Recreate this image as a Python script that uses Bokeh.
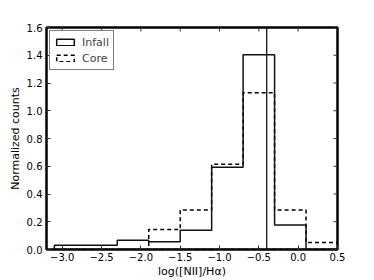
import math
from bokeh.plotting import figure
from bokeh.models import (Range1d, FixedTicker, CustomJSTickFormatter,
                          Span, Legend, LegendItem)
from bokeh.embed import file_html
from bokeh.resources import INLINE

# Data
bin_edges = [-3.1, -2.7, -2.3, -1.9, -1.5, -1.1, -0.7, -0.3, 0.1, 0.5]
infall = [0.031, 0.031, 0.066, 0.055, 0.138, 0.593, 1.404, 0.176, 0.0]
core = [0.0, 0.0, 0.0, 0.145, 0.285, 0.614, 1.129, 0.285, 0.05]
vline_x = -0.4
x_ticks = [-3.0, -2.5, -2.0, -1.5, -1.0, -0.5, 0.0, 0.5]
y_ticks = [0.0, 0.2, 0.4, 0.6, 0.8, 1.0, 1.2, 1.4, 1.6]
x_lim = (-3.2, 0.5)
y_lim = (0.0, 1.6)

FONT = "DejaVu Sans"


def step_xy(edges, vals):
    xs, ys = [edges[0]], [0.0]
    for i, v in enumerate(vals):
        xs += [edges[i], edges[i + 1]]
        ys += [v, v]
    xs.append(edges[-1])
    ys.append(0.0)
    return xs, ys


p = figure(width=374, height=280, output_backend="svg", toolbar_location=None,
           x_range=Range1d(*x_lim), y_range=Range1d(*y_lim),
           min_border_left=46, min_border_right=37, min_border_top=27,
           min_border_bottom=4)
p.background_fill_color = "white"
p.border_fill_color = "white"
p.outline_line_color = "black"
p.outline_line_width = 2.5
p.xgrid.visible = False
p.ygrid.visible = False

fmt = CustomJSTickFormatter(code="return tick.toFixed(1).replace('-', '\u2212');")

for ax in p.xaxis + p.yaxis:
    ax.axis_line_color = None
    ax.major_tick_in = 4
    ax.major_tick_out = 0
    ax.minor_tick_line_color = None
    ax.major_tick_line_color = "#333333"
    ax.major_label_text_font = FONT
    ax.major_label_text_font_size = "10px"
    ax.major_label_text_color = "black"
    ax.axis_label_text_font = FONT
    ax.axis_label_text_font_size = "11px"
    ax.axis_label_text_font_style = "normal"
    ax.axis_label_text_color = "black"
    ax.formatter = fmt

p.xaxis.ticker = FixedTicker(ticks=x_ticks)
p.yaxis.ticker = FixedTicker(ticks=y_ticks)
p.xaxis.axis_label = "log([NII]/H\u03b1)"
p.yaxis.axis_label = "Normalized counts"
p.xaxis.major_label_standoff = 3
p.xaxis.axis_label_standoff = 1
p.yaxis.major_label_standoff = 4
p.yaxis.axis_label_standoff = 2

# mirrored ticks on top and right (dash markers clipped by the frame)
p.scatter(x=x_ticks, y=[y_lim[1]] * len(x_ticks), marker="dash", size=8,
          angle=math.pi / 2, line_color="#333333", line_width=1)
p.scatter(x=[x_lim[1]] * len(y_ticks), y=y_ticks, marker="dash", size=8,
          line_color="#333333", line_width=1)

ix, iy = step_xy(bin_edges, infall)
cx, cy = step_xy(bin_edges, core)
r_core = p.patch(cx, cy, fill_alpha=0, line_color="black", line_width=1.5,
                 line_dash="4 3")
r_inf = p.patch(ix, iy, fill_alpha=0, line_color="#111111", line_width=1.5)

p.add_layout(Span(location=vline_x, dimension="height", line_color="#111111",
                  line_width=1.3))

legend = Legend(items=[LegendItem(label="Infall", renderers=[r_inf]),
                       LegendItem(label="Core", renderers=[r_core])],
                location="top_left")
legend.label_text_font = FONT
legend.label_text_font_size = "11px"
legend.label_height = 14
legend.glyph_height = 8
legend.glyph_width = 22
legend.label_standoff = 6
legend.padding = 4
legend.spacing = 2
legend.margin = 3
legend.border_line_color = "black"
legend.border_line_width = 1
legend.background_fill_alpha = 1
p.add_layout(legend)

open("out.html", "w").write(file_html(p, INLINE))
